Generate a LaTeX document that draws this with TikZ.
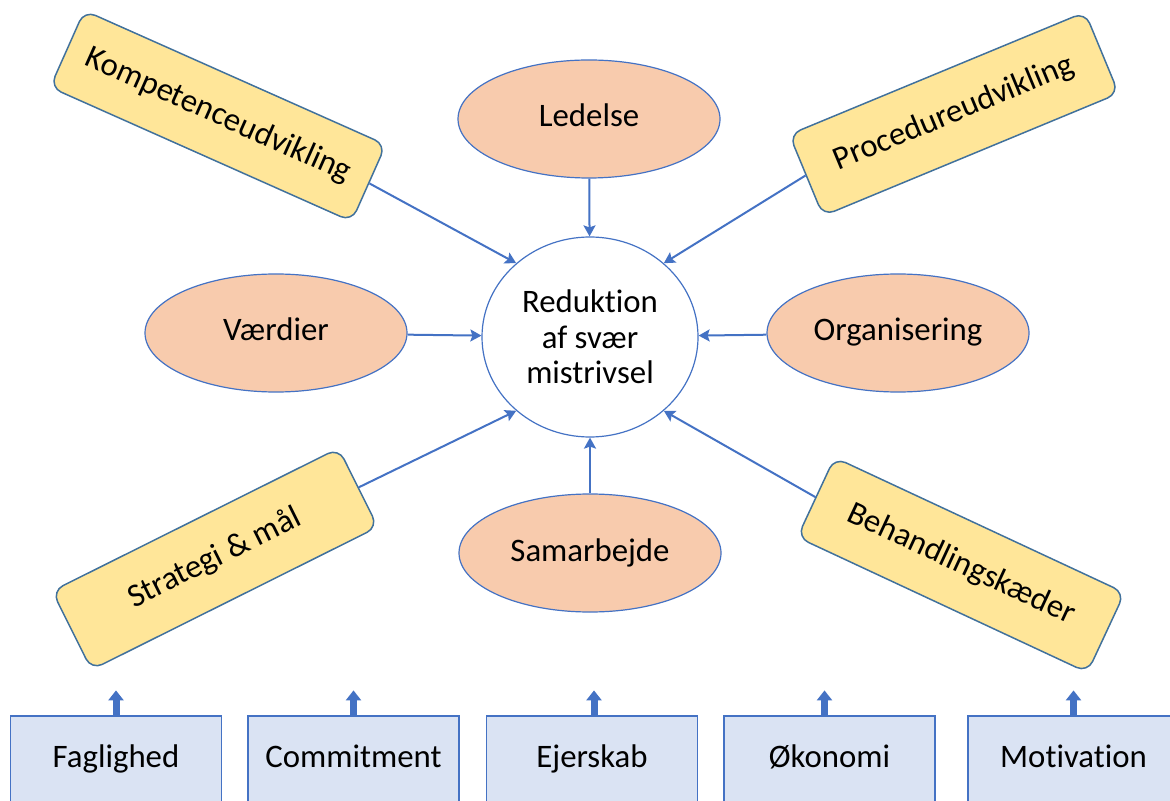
\documentclass[tikz,border=0pt]{standalone}
\usepackage{fontspec}
\setmainfont{Carlito}[RawFeature={-liga;-clig;-dlig;-calt;-rlig}]
\usetikzlibrary{arrows.meta,shapes.geometric}
\definecolor{lnblue}{HTML}{4472C4}
\definecolor{edgeblue}{HTML}{41719C}
\definecolor{peach}{HTML}{F8CBAD}
\definecolor{ylw}{HTML}{FFE699}
\definecolor{lblue}{HTML}{DAE3F3}
\begin{document}
\begin{tikzpicture}[x=0.5pt,y=-0.5pt,
  font=\fontsize{16.4}{17.8}\selectfont,
  oval/.style={ellipse, draw=lnblue, line width=0.6pt, fill=peach, minimum width=131pt, minimum height=59pt, inner sep=0pt, text height=11.5pt, text depth=3.5pt},
  hub/.style={ellipse, draw=lnblue, line width=0.6pt, fill=white, minimum width=108pt, minimum height=100pt, inner sep=0pt, align=center},
  rbox/.style={rectangle, rounded corners=6pt, draw=edgeblue, fill=ylw, line width=0.75pt, minimum width=160pt, minimum height=44pt, inner sep=0pt, text height=11.5pt, text depth=3.5pt},
  bbox/.style={rectangle, draw=lnblue, fill=lblue, line width=0.6pt, minimum width=105.5pt, minimum height=43pt, inner sep=0pt, text height=11.5pt, text depth=3.5pt},
  arr/.style={draw=lnblue, line width=1pt, -{Stealth[length=5.5pt,width=6pt,inset=1pt]}},
  blk/.style={draw=lnblue, line width=3.5pt, -{Triangle[length=5pt,width=7.5pt]}}
]
\useasboundingbox (0,0) rectangle (1170,801);
\clip (0,0) rectangle (1170,801);

\node[hub] (c) at (590,337) {Reduktion\\af svær\\mistrivsel};

\node[oval] (led) at (589,119) {Ledelse};
\node[oval] (vaer) at (276,333) {Værdier};
\node[oval] (org) at (898,333) {Organisering};
\node[oval] (sam) at (590,553) {Samarbejde};

\node[rbox, rotate=-24, minimum width=165pt, minimum height=42pt] (komp) at (218,116) {Kompetenceudvikling};
\node[rbox, rotate=22.5] (proc) at (954,114) {Procedureudvikling};
\node[rbox, rotate=26.5] (strat) at (215,559) {Strategi \& mål};
\node[rbox, rotate=-25] (beh) at (961,565) {Behandlingskæder};

\draw[arr] (led) -- (c);
\draw[arr] (vaer) -- (c);
\draw[arr] (org) -- (c);
\draw[arr] (sam) -- (c);
\draw[arr] (komp.east) -- (c.135);
\draw[arr] (proc.west) -- (c.45);
\draw[arr] (strat.east) -- (c.225);
\draw[arr] (beh.west) -- (c.315);

\node[bbox] (fag) at (116,759) {Faglighed};
\node[bbox] (com) at (353.5,759) {Commitment};
\node[bbox] (ejer) at (592,759) {Ejerskab};
\node[bbox] (oko) at (829.5,759) {Økonomi};
\node[bbox] (mot) at (1073.5,759) {Motivation};

\draw[blk] (fag.north) -- ++(0,-25);
\draw[blk] (com.north) -- ++(0,-25);
\draw[blk] ([xshift=1pt]ejer.north) -- ++(0,-25);
\draw[blk] ([xshift=-2.5pt]oko.north) -- ++(0,-25);
\draw[blk] (mot.north) -- ++(0,-25);
\end{tikzpicture}
\end{document}
